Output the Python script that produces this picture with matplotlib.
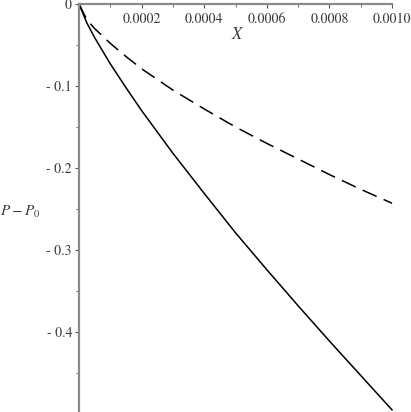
import numpy as np
import matplotlib
matplotlib.use("Agg")
import matplotlib.pyplot as plt
from matplotlib.ticker import MultipleLocator, FixedLocator, FixedFormatter

plt.rcParams['font.family'] = ['STIXGeneral', 'Liberation Serif', 'DejaVu Serif']
plt.rcParams['mathtext.fontset'] = 'stix'
plt.rcParams['axes.unicode_minus'] = False

# values
x_vals = [0.0, 0.000025, 0.00005, 0.0001, 0.00015, 0.0002, 0.0003, 0.0004, 0.0005,
          0.0006, 0.0007, 0.0008, 0.0009, 0.0010]
p_solid = [0.0, -0.023, -0.041, -0.073, -0.102, -0.130, -0.182, -0.231, -0.279,
           -0.324, -0.368, -0.411, -0.453, -0.495]
p_dashed = [0.0, -0.019, -0.030, -0.048, -0.064, -0.079, -0.105, -0.128, -0.150,
            -0.170, -0.189, -0.208, -0.226, -0.243]

x_ticks = [0.0002, 0.0004, 0.0006, 0.0008, 0.0010]
x_tick_labels = ['0.0002', '0.0004', '0.0006', '0.0008', '0.0010']
y_ticks = [0.0, -0.1, -0.2, -0.3, -0.4]
y_tick_labels = ['0', '- 0.1', '- 0.2', '- 0.3', '- 0.4']

W, H = 411, 412
fig = plt.figure(figsize=(W / 100, H / 100), dpi=100)
x0, x1, ytop = 79, 392, 4
ax = fig.add_axes([x0 / W, 0, (x1 - x0) / W, (H - ytop) / H])

ax.plot(x_vals, p_solid, color='black', lw=1.1, clip_on=False)
ax.plot(x_vals, p_dashed, color='black', lw=1.1, linestyle=(0, (10, 5)), clip_on=False)

ax.set_xlim(0, 0.001)
ax.set_ylim(-0.4976, 0)

for side in ['bottom', 'right']:
    ax.spines[side].set_visible(False)
for side in ['top', 'left']:
    ax.spines[side].set_color('#8a8a8a')
    ax.spines[side].set_linewidth(1.6)

ax.xaxis.set_ticks_position('top')
ax.xaxis.set_major_locator(FixedLocator(x_ticks))
ax.xaxis.set_major_formatter(FixedFormatter(x_tick_labels))
ax.xaxis.set_minor_locator(MultipleLocator(0.0001))
ax.tick_params(axis='x', which='both', direction='in', color='#555555',
               labelsize=10, labelcolor='#3a3a3a', pad=-16)
ax.tick_params(axis='x', which='major', length=3)
ax.tick_params(axis='x', which='minor', length=2)

ax.yaxis.set_major_locator(FixedLocator(y_ticks))
ax.yaxis.set_major_formatter(FixedFormatter(y_tick_labels))
ax.yaxis.set_minor_locator(MultipleLocator(0.05))
ax.tick_params(axis='y', which='both', direction='out', color='#555555',
               labelsize=10, labelcolor='#3a3a3a', pad=2)
ax.tick_params(axis='y', which='major', length=3)
ax.tick_params(axis='y', which='minor', length=2)

fig.text(238 / W, 1 - 35 / H, '$X$', fontsize=12, color='#3a3a3a',
         ha='center', va='center')
fig.text(20 / W, 1 - 212 / H, '$P - P_0$', fontsize=11, color='#3a3a3a',
         ha='center', va='center')

fig.savefig('out.png', dpi=100)
